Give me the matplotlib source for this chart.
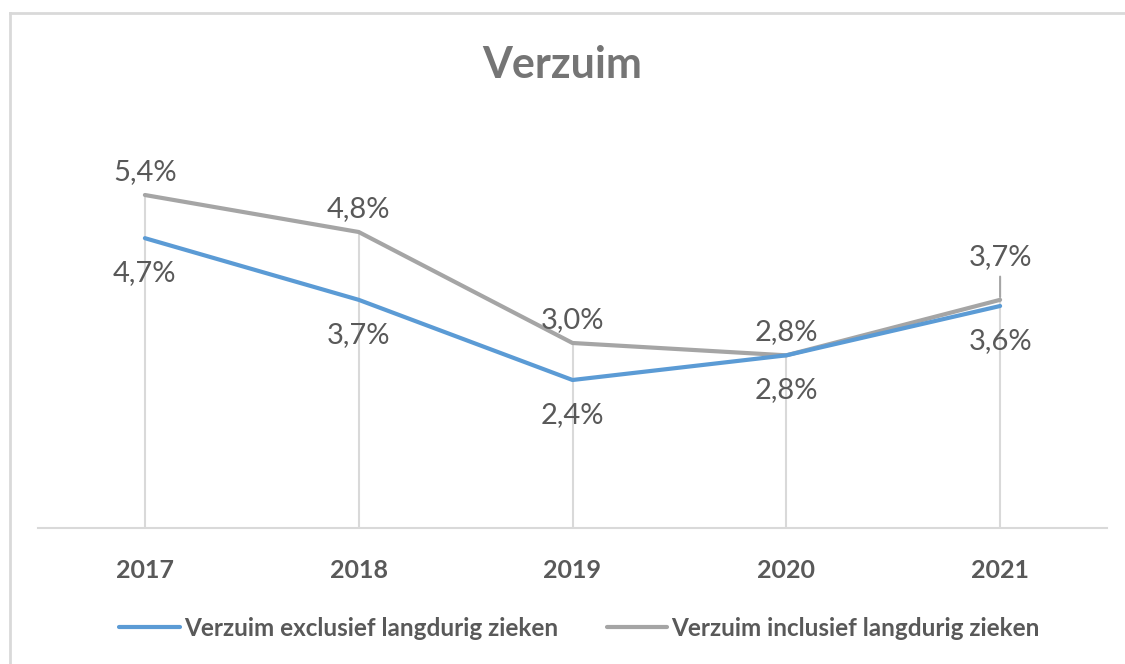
import matplotlib
matplotlib.use('Agg')
import matplotlib.pyplot as plt
from matplotlib.lines import Line2D

years = ['2017', '2018', '2019', '2020', '2021']
excl = [4.7, 3.7, 2.4, 2.8, 3.6]
incl = [5.4, 4.8, 3.0, 2.8, 3.7]
excl_labels = ['4,7%', '3,7%', '2,4%', '2,8%', '3,6%']
incl_labels = ['5,4%', '4,8%', '3,0%', '2,8%', '3,7%']

blue = '#5B9BD5'
grey = '#A5A5A5'
txt = '#595959'
light = '#D9D9D9'

plt.rcParams['font.family'] = ['Lato', 'DejaVu Sans']

fig = plt.figure(figsize=(11.25, 6.64), dpi=100)
ax = fig.add_axes([38 / 1125, 1 - 528 / 664, (1107 - 38) / 1125, 370 / 664])

x = list(range(len(years)))

# drop lines van hoogste punt naar de as
for i in x:
    ax.plot([i, i], [0, max(excl[i], incl[i])], color=light, lw=1.5, zorder=1)

ax.plot(x, excl, color=blue, lw=3, solid_capstyle='round', zorder=3,
        label='Verzuim exclusief langdurig zieken')
ax.plot(x, incl, color=grey, lw=3, solid_capstyle='round', zorder=2,
        label='Verzuim inclusief langdurig zieken')

# labels
for i in x:
    dy = 10
    if i == 4:
        dy = 30
        ax.annotate('', xy=(i, incl[i]), xytext=(0, 26), textcoords='offset pixels',
                    arrowprops=dict(arrowstyle='-', color=grey, lw=1.5))
    ax.annotate(incl_labels[i], (i, incl[i]), xytext=(0, dy), textcoords='offset pixels',
                ha='center', va='bottom', fontsize=21, color=txt)
    ax.annotate(excl_labels[i], (i, excl[i]), xytext=(0, -22), textcoords='offset pixels',
                ha='center', va='top', fontsize=21, color=txt)

ax.set_xlim(-0.5, 4.5)
ax.set_ylim(0, 6)
ax.set_xticks(x)
ax.set_xticklabels(years, fontsize=18, fontweight='bold', color=txt)
ax.tick_params(axis='x', length=0, pad=22)
ax.set_yticks([])
for s in ['top', 'right', 'left']:
    ax.spines[s].set_visible(False)
ax.spines['bottom'].set_color(light)
ax.spines['bottom'].set_linewidth(1.5)

fig.text(0.5, 1 - 65 / 664, 'Verzuim', ha='center', va='center',
         fontsize=31, fontweight='bold', color='#757575')

leg = fig.legend(loc='center', bbox_to_anchor=(0.515, 1 - 628 / 664), ncol=2,
                 frameon=False, handlelength=2.5, handletextpad=0.15, columnspacing=2.0,
                 prop={'size': 17.5, 'weight': 'bold'})
for t in leg.get_texts():
    t.set_color(txt)

# rand van de grafiek
fig.add_artist(Line2D([10 / 1125, 10 / 1125], [0, 1 - 13 / 664], color=light, lw=2,
                      transform=fig.transFigure))
fig.add_artist(Line2D([10 / 1125, 1], [1 - 13 / 664, 1 - 13 / 664], color=light, lw=2,
                      transform=fig.transFigure))

fig.savefig('out.png', dpi=100, facecolor='white')
